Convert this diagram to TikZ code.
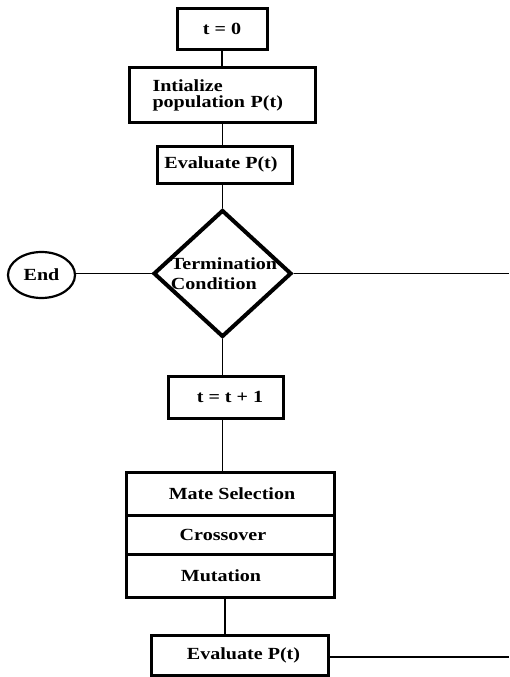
\documentclass[tikz,border=0pt]{standalone}
\usepackage{fontspec}
\setmainfont{Liberation Serif}[FakeStretch=1.18]
\usepackage{tikz}
\usetikzlibrary{shapes.geometric}
\usetikzlibrary{positioning}
\usetikzlibrary{calc}
\tikzset{
every picture/.style={line width=1.8pt, x=1pt, y=-1pt},
%%%%%%%%%%  Node styles
flow_box/.style={draw, rectangle, line width=3pt, inner sep=0pt,
                 font=\fontsize{17}{18}\selectfont\bfseries},
part_box/.style={flow_box, outer sep=0pt, minimum width=208pt},
decision/.style={draw, diamond, line width=4pt, inner sep=0pt,
                 minimum width=138pt, minimum height=127pt},
terminal/.style={draw, ellipse, line width=2.2pt, inner sep=0pt,
                 minimum width=67pt, minimum height=46pt,
                 font=\fontsize{17}{18}\selectfont\bfseries},
plain_text/.style={inner sep=0pt, align=left,
                 font=\fontsize{17}{20}\selectfont\bfseries},
%%%%%%% line styles
link/.style={line width=1.8pt}
}

\begin{document}
\begin{tikzpicture}
\useasboundingbox (0,0) rectangle (509,677);
%% top of the loop
\node[flow_box, minimum width=90pt, minimum height=41pt] (t0) at (222,29) {t = 0};
\node[flow_box, minimum width=186pt, minimum height=55pt, text width=140pt,
      inner xsep=23pt, align=left] (init) at (222.5,95)
      {Intialize\\[-2pt]population P(t)};
\node[flow_box, minimum width=135pt, minimum height=37pt] (eval1) at (224.5,164.5)
      {Evaluate P(t)\hspace*{7pt}};
%% test
\node[decision] (cond) at (222.5,273.5) {};
\node[plain_text] (condtext) at (224,274) {Termination\\Condition};
\node[terminal] (end) at (41.5,275) {End};
%% body of the loop
\node[flow_box, minimum width=115pt, minimum height=42pt] (t1) at (225.5,397)
      {\hspace*{9pt}t = t + 1};
\node[part_box, minimum height=43pt] (sel) at (230,493.5) {\hspace*{4pt}Mate Selection};
\node[part_box, minimum height=39pt, below=0pt of sel] (cross) {Crossover\hspace*{14pt}};
\node[part_box, minimum height=43pt, below=0pt of cross] (mut) {Mutation\hspace*{18pt}};
\node[flow_box, minimum width=177pt, minimum height=40pt] (eval2) at (239.5,655)
      {\hspace*{8pt}Evaluate P(t)};
%% free ends at the right rim
\coordinate (rim_top) at (509,273.5);
\coordinate (rim_low) at (509,657);
%% connectors
\draw[link] (t0.south) -- (t0.south |- init.north);
\draw[link] (init.south) -- (init.south |- eval1.north);
\draw[link] (cond.north |- eval1.south) -- (cond.north);
\draw[link] (cond.west) -- (cond.west -| end.east);
\draw[link] (cond.east) -- (rim_top);
\draw[link] (cond.south) -- (cond.south |- t1.north);
\draw[link] (cond.south |- t1.south) -- (cond.south |- sel.north);
\draw[link] ([xshift=-5pt]mut.south) -- ([xshift=-5pt]mut.south |- eval2.north);
\draw[link] (eval2.east |- rim_low) -- (rim_low);
\end{tikzpicture}
\end{document}
